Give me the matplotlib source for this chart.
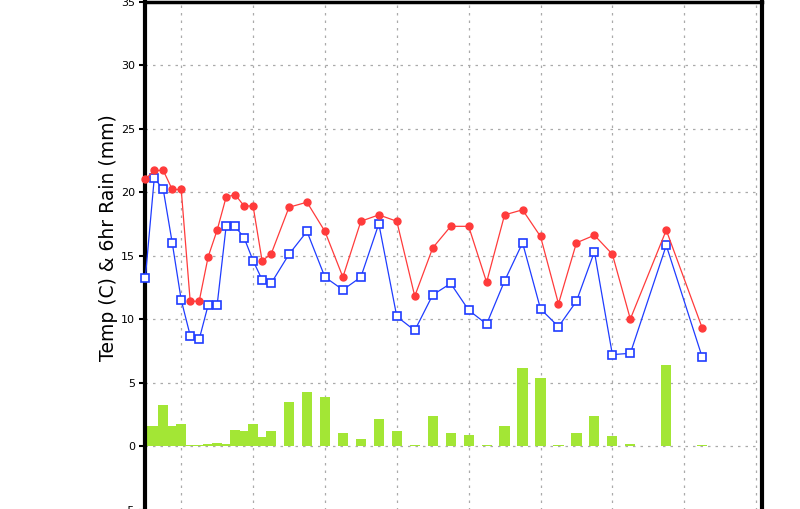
import numpy as np
import matplotlib
matplotlib.use("Agg")
import matplotlib.pyplot as plt

# forecast hour of each point (3-hourly, then 6-hourly, then 12-hourly)
hours = [0, 3, 6, 9, 12, 15, 18, 21, 24, 27, 30, 33, 36, 39, 42,
         48, 54, 60, 66, 72, 78, 84, 90, 96, 102, 108, 114, 120, 126, 132,
         138, 144, 150, 156, 162,
         174, 186]

temp = [21.0, 21.7, 21.7, 20.2, 20.2, 11.4, 11.4, 14.9, 17.0, 19.6, 19.8, 18.9, 18.9, 14.6, 15.1,
        18.8, 19.2, 16.9, 13.3, 17.7, 18.2, 17.7, 11.8, 15.6, 17.3, 17.3, 12.9, 18.2, 18.6, 16.5,
        11.2, 16.0, 16.6, 15.1, 10.0,
        17.0, 9.3]

dewpt = [13.2, 21.1, 20.2, 16.0, 11.5, 8.7, 8.4, 11.1, 11.1, 17.3, 17.3, 16.4, 14.6, 13.1, 12.8,
         15.1, 16.9, 13.3, 12.3, 13.3, 17.5, 10.2, 9.1, 11.9, 12.8, 10.7, 9.6, 13.0, 16.0, 10.8,
         9.4, 11.4, 15.3, 7.2, 7.3,
         15.8, 7.0]

rain = [1.6, 1.6, 3.2, 1.6, 1.7, 0.08, 0.08, 0.16, 0.24, 0.16, 1.28, 1.2, 1.75, 0.72, 1.2,
        3.43, 4.23, 3.9, 1.04, 0.56, 2.15, 1.2, 0.08, 2.4, 1.04, 0.88, 0.08, 1.6, 6.14, 5.35,
        0.08, 1.04, 2.4, 0.8, 0.16,
        6.38, 0.08]

grid_hours = [12, 36, 60, 84, 108, 132, 156, 180, 204]
yticks = [-5, 0, 5, 10, 15, 20, 25, 30, 35]

fig = plt.figure(figsize=(8, 5.09), dpi=100)
# axes run past the bottom of the picture, like the original crop
ax = fig.add_axes([0.1816, -0.1258, 0.771, 1.1228])

ax.bar(hours, rain, width=3.4, color="#a3e635", zorder=2)
ax.plot(hours, dewpt, color="#1f3cff", lw=0.9, marker="s", ms=5.5,
        mfc="white", mec="#1f3cff", mew=1.2, zorder=3, clip_on=False)
ax.plot(hours, temp, color="#ff3b3b", lw=0.9, marker="o", ms=5,
        mfc="#ff3b3b", mec="#ff3b3b", zorder=4, clip_on=False)

ax.set_xlim(0, 206)
ax.set_ylim(-10, 35)
ax.set_xticks(grid_hours)
ax.set_xticklabels([])
ax.set_yticks(yticks)
ax.tick_params(axis="y", labelsize=8, length=4, width=1.5, direction="out")
ax.tick_params(axis="x", length=0)

ax.grid(True, color="#aaaaaa", linestyle=(0, (2, 4)), linewidth=0.9, zorder=1)
ax.set_axisbelow(True)

for side in ["left", "right"]:
    ax.spines[side].set_linewidth(3)
ax.spines["top"].set_linewidth(2.5)

fig.text(0.135, 1 - 238 / 509, "Temp (C) & 6hr Rain (mm)", rotation=90,
         ha="center", va="center", fontsize=13.5)

fig.savefig("out.png", dpi=100)
